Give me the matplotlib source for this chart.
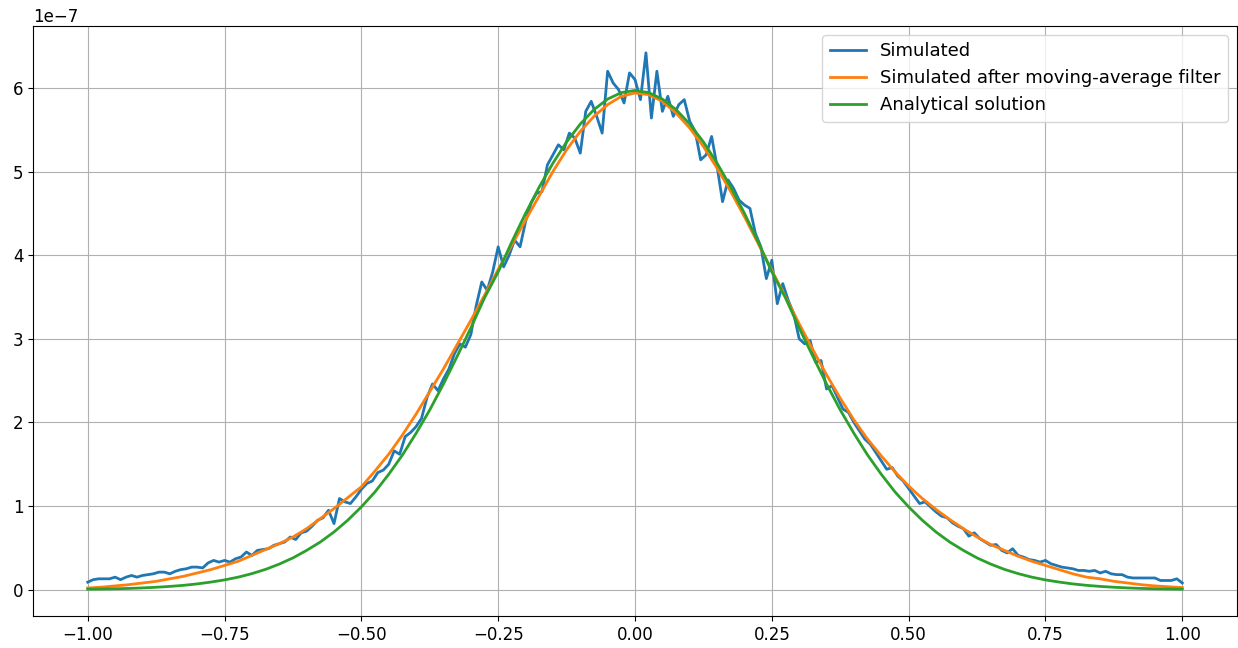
import numpy as np
import matplotlib
matplotlib.use("Agg")
import matplotlib.pyplot as plt

SCALE = 1e-7  # all values below are in units of 1e-7

# simulated (noisy) curve, step 0.01 from -1 to 1
sim_x = np.linspace(-1.0, 1.0, 201)
sim_y = [
    0.09, 0.12, 0.13, 0.13, 0.13, 0.15, 0.12, 0.15, 0.17, 0.15,
    0.17, 0.18, 0.19, 0.21, 0.21, 0.19, 0.22, 0.24, 0.25, 0.27,
    0.27, 0.26, 0.32, 0.35, 0.33, 0.35, 0.33, 0.37, 0.39, 0.45,
    0.41, 0.47, 0.48, 0.49, 0.53, 0.55, 0.57, 0.63, 0.60, 0.68,
    0.70, 0.76, 0.83, 0.86, 0.95, 0.79, 1.09, 1.05, 1.03, 1.11,
    1.20, 1.27, 1.30, 1.40, 1.43, 1.50, 1.66, 1.62, 1.83, 1.88,
    1.95, 2.05, 2.30, 2.46, 2.38, 2.52, 2.64, 2.82, 2.94, 2.90,
    3.05, 3.40, 3.68, 3.58, 3.80, 4.10, 3.86, 4.00, 4.18, 4.10,
    4.40, 4.62, 4.74, 4.76, 5.08, 5.20, 5.32, 5.26, 5.46, 5.40,
    5.22, 5.72, 5.84, 5.66, 5.46, 6.20, 6.06, 5.98, 5.82, 6.18,
    6.10,
    5.86, 6.42, 5.64, 6.20, 5.72, 5.90, 5.66, 5.80, 5.86, 5.60,
    5.48, 5.14, 5.20, 5.42, 5.06, 4.64, 4.90, 4.80, 4.66, 4.60,
    4.56, 4.26, 4.10, 3.72, 3.94, 3.42, 3.66, 3.46, 3.30, 3.00,
    2.94, 2.98, 2.72, 2.74, 2.40, 2.44, 2.30, 2.16, 2.12, 2.00,
    1.90, 1.80, 1.74, 1.64, 1.54, 1.44, 1.46, 1.36, 1.30, 1.21,
    1.12, 1.03, 1.05, 0.99, 0.93, 0.88, 0.86, 0.80, 0.76, 0.73,
    0.64, 0.68, 0.61, 0.57, 0.53, 0.54, 0.47, 0.44, 0.49, 0.41,
    0.39, 0.36, 0.35, 0.33, 0.35, 0.31, 0.29, 0.27, 0.26, 0.25,
    0.23, 0.23, 0.22, 0.23, 0.20, 0.22, 0.19, 0.18, 0.18, 0.15,
    0.14, 0.14, 0.14, 0.14, 0.14, 0.11, 0.11, 0.11, 0.13, 0.08,
]

# smoothed and analytical curves, step 0.025 from -1 to 1
smooth_x = np.linspace(-1.0, 1.0, 81)
ma_y = [
    0.02, 0.03, 0.045, 0.06, 0.08, 0.10, 0.13, 0.16, 0.20, 0.24,
    0.29, 0.34, 0.41, 0.48, 0.55, 0.63, 0.73, 0.85, 0.97, 1.10,
    1.23, 1.42, 1.62, 1.85, 2.10, 2.37, 2.64, 2.93, 3.22, 3.52,
    3.83, 4.12, 4.42, 4.71, 5.00, 5.26, 5.48, 5.66, 5.80, 5.90,
    5.94,
    5.92, 5.84, 5.70, 5.52, 5.30, 5.04, 4.76, 4.46, 4.14, 3.82,
    3.50, 3.18, 2.87, 2.57, 2.29, 2.03, 1.80, 1.60, 1.41, 1.24,
    1.09, 0.96, 0.84, 0.73, 0.63, 0.54, 0.47, 0.40, 0.34, 0.29,
    0.24, 0.19, 0.15, 0.13, 0.10, 0.08, 0.06, 0.045, 0.035, 0.025,
]
exact_y = [
    0.006, 0.008, 0.011, 0.015, 0.021, 0.029, 0.039, 0.052, 0.069, 0.091,
    0.117, 0.150, 0.192, 0.243, 0.306, 0.380, 0.470, 0.570, 0.690, 0.830,
    0.990, 1.170, 1.380, 1.610, 1.870, 2.150, 2.460, 2.790, 3.130, 3.490,
    3.800, 4.160, 4.500, 4.815, 5.100, 5.354, 5.568, 5.741, 5.867, 5.944,
    5.970,
    5.944, 5.867, 5.741, 5.568, 5.354, 5.100, 4.815, 4.500, 4.160, 3.800,
    3.490, 3.130, 2.790, 2.460, 2.150, 1.870, 1.610, 1.380, 1.170, 0.990,
    0.830, 0.690, 0.570, 0.470, 0.380, 0.306, 0.243, 0.192, 0.150, 0.117,
    0.091, 0.069, 0.052, 0.039, 0.029, 0.021, 0.015, 0.011, 0.008, 0.006,
]

plt.rcParams['font.size'] = 12

fig, ax = plt.subplots(figsize=(12.38, 6.48), dpi=100)
fig.subplots_adjust(left=33/1238, right=1237/1238, bottom=32/648, top=622/648)

ax.plot(sim_x, np.array(sim_y) * SCALE, lw=2, label='Simulated')
ax.plot(smooth_x, np.array(ma_y) * SCALE, lw=2,
        label='Simulated after moving-average filter')
ax.plot(smooth_x, np.array(exact_y) * SCALE, lw=2, label='Analytical solution')

ax.grid(True)
ax.legend(loc='upper right', fontsize=13)

fig.savefig('out.png', dpi=100)
